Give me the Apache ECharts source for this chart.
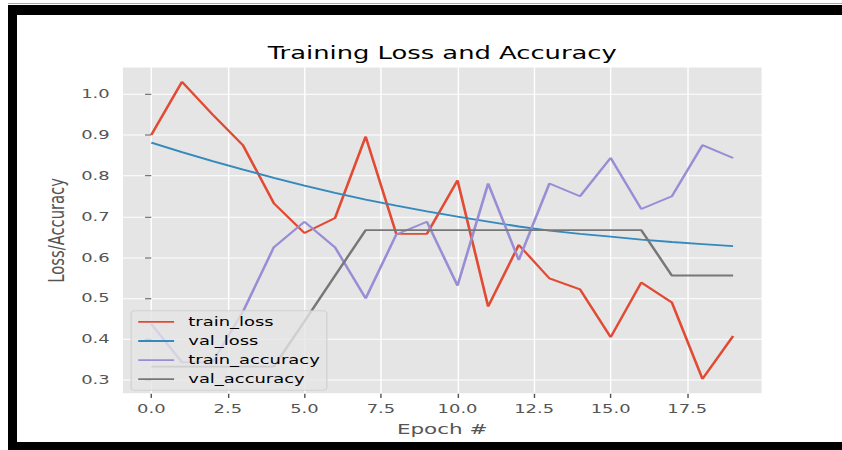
<!DOCTYPE html>
<html>
<head>
<meta charset="utf-8">
<script src="https://cdn.jsdelivr.net/npm/echarts@6/dist/echarts.min.js"></script>
<style>
  html, body { margin: 0; padding: 0; width: 842px; height: 450px; overflow: hidden; background: #fff; }
  /* the figure is laid out at 640x480 and stretched to its on-screen size */
  #fig { position: absolute; left: 18.8px; top: 16px; width: 640px; height: 480px;
         transform-origin: 0 0; transform: scale(1.2903, 0.8847); }
  .band { position: absolute; background: #000; }
</style>
</head>
<body>
<div id="fig"></div>
<div style="position:absolute;left:8px;top:3px;width:834px;height:1px;background:#aaa"></div>
<div class="band" style="left:8px;top:5px;width:834px;height:10px"></div>
<div class="band" style="left:8px;top:5px;width:9px;height:445px"></div>
<div class="band" style="left:8px;top:442px;width:834px;height:8px"></div>
<script>
// epochs 0..19
const epochs = [0, 1, 2, 3, 4, 5, 6, 7, 8, 9, 10, 11, 12, 13, 14, 15, 16, 17, 18, 19];

const trainLoss = [0.900, 1.030, 0.950, 0.874, 0.733, 0.660, 0.697, 0.896, 0.658, 0.658,
                   0.789, 0.480, 0.631, 0.549, 0.522, 0.405, 0.539, 0.490, 0.303, 0.408];
const valLoss = [0.881, 0.858, 0.836, 0.815, 0.795, 0.776, 0.758, 0.742, 0.727, 0.713,
                 0.700, 0.688, 0.676, 0.666, 0.658, 0.651, 0.644, 0.638, 0.633, 0.628];
const trainAccuracy = [0.4375, 0.34375, 0.34375, 0.46875, 0.625, 0.6875, 0.625, 0.500, 0.65625, 0.6875,
                       0.53125, 0.78125, 0.59375, 0.78125, 0.750, 0.84375, 0.71875, 0.750, 0.875, 0.84375];
const valAccuracy = [0.333, 0.333, 0.333, 0.333, 0.333, 0.444, 0.556, 0.667, 0.667, 0.667,
                     0.667, 0.667, 0.667, 0.667, 0.667, 0.667, 0.667, 0.556, 0.556, 0.556];

const seriesNames = ['train_loss', 'val_loss', 'train_accuracy', 'val_accuracy'];
const seriesValues = [trainLoss, valLoss, trainAccuracy, valAccuracy];
const seriesColors = ['#E24A33', '#348ABD', '#988ED5', '#777777'];

const xTicks = [0, 2.5, 5, 7.5, 10, 12.5, 15, 17.5];
const yTicks = [0.3, 0.4, 0.5, 0.6, 0.7, 0.8, 0.9, 1.0];

const FONT = 'DejaVu Sans';

// 5% padding around the data range on both axes
const allVals = [].concat(...seriesValues);
const vMin = Math.min(...allVals), vMax = Math.max(...allVals);
const yPad = 0.05 * (vMax - vMin);
const xPad = 0.05 * (epochs[epochs.length - 1] - epochs[0]);

const chart = echarts.init(document.getElementById('fig'), null, { renderer: 'svg', width: 640, height: 480 });

chart.setOption({
  animation: false,
  backgroundColor: '#ffffff',
  title: {
    text: 'Training Loss and Accuracy',
    left: 323, top: 26, textAlign: 'center',
    textStyle: { fontFamily: FONT, fontSize: 20, fontWeight: 'normal', color: '#000' }
  },
  grid: {
    left: 80, top: 57.6, width: 496, height: 369.6,
    show: true, backgroundColor: '#E5E5E5', borderColor: '#ffffff', borderWidth: 1
  },
  legend: {
    orient: 'vertical', left: 86.9, bottom: 57, padding: 5.5,
    icon: 'rect', itemWidth: 27.8, itemHeight: 2.1, itemGap: 7.6,
    backgroundColor: 'rgba(229,229,229,0.8)', borderColor: 'rgba(204,204,204,0.8)',
    borderWidth: 1, borderRadius: 3,
    textStyle: { fontFamily: FONT, fontSize: 13.89, color: '#000', padding: [0, 0, 0, 6] },
    data: seriesNames
  },
  xAxis: {
    type: 'value',
    min: epochs[0] - xPad, max: epochs[epochs.length - 1] + xPad,
    name: 'Epoch #', nameLocation: 'middle', nameGap: 31,
    nameTextStyle: { fontFamily: FONT, fontSize: 16.67, color: '#555555' },
    axisLine: { show: false },
    axisTick: { show: true, length: 4.86, customValues: xTicks, lineStyle: { color: '#555555', width: 1.1 } },
    axisLabel: { customValues: xTicks, formatter: v => v.toFixed(1), margin: 9.7,
                 fontFamily: FONT, fontSize: 13.89, color: '#555555' },
    splitLine: { show: true, lineStyle: { color: '#ffffff', width: 1.1 } }
  },
  yAxis: {
    type: 'value',
    min: vMin - yPad, max: vMax + yPad,
    name: 'Loss/Accuracy', nameLocation: 'middle', nameGap: 38,
    nameTextStyle: { fontFamily: FONT, fontSize: 16.67, color: '#555555' },
    axisLine: { show: false },
    axisTick: { show: true, length: 4.86, customValues: yTicks, lineStyle: { color: '#555555', width: 1.1 } },
    axisLabel: { customValues: yTicks, formatter: v => v.toFixed(1), margin: 9.7,
                 fontFamily: FONT, fontSize: 13.89, color: '#555555' },
    splitLine: { show: true, lineStyle: { color: '#ffffff', width: 1.1 } }
  },
  series: seriesNames.map((name, i) => ({
    name: name,
    type: 'line',
    data: epochs.map((e, j) => [e, seriesValues[i][j]]),
    symbol: 'none',
    silent: true,
    lineStyle: { width: 2.08, color: seriesColors[i] },
    itemStyle: { color: seriesColors[i] }
  }))
});
</script>
</body>
</html>
